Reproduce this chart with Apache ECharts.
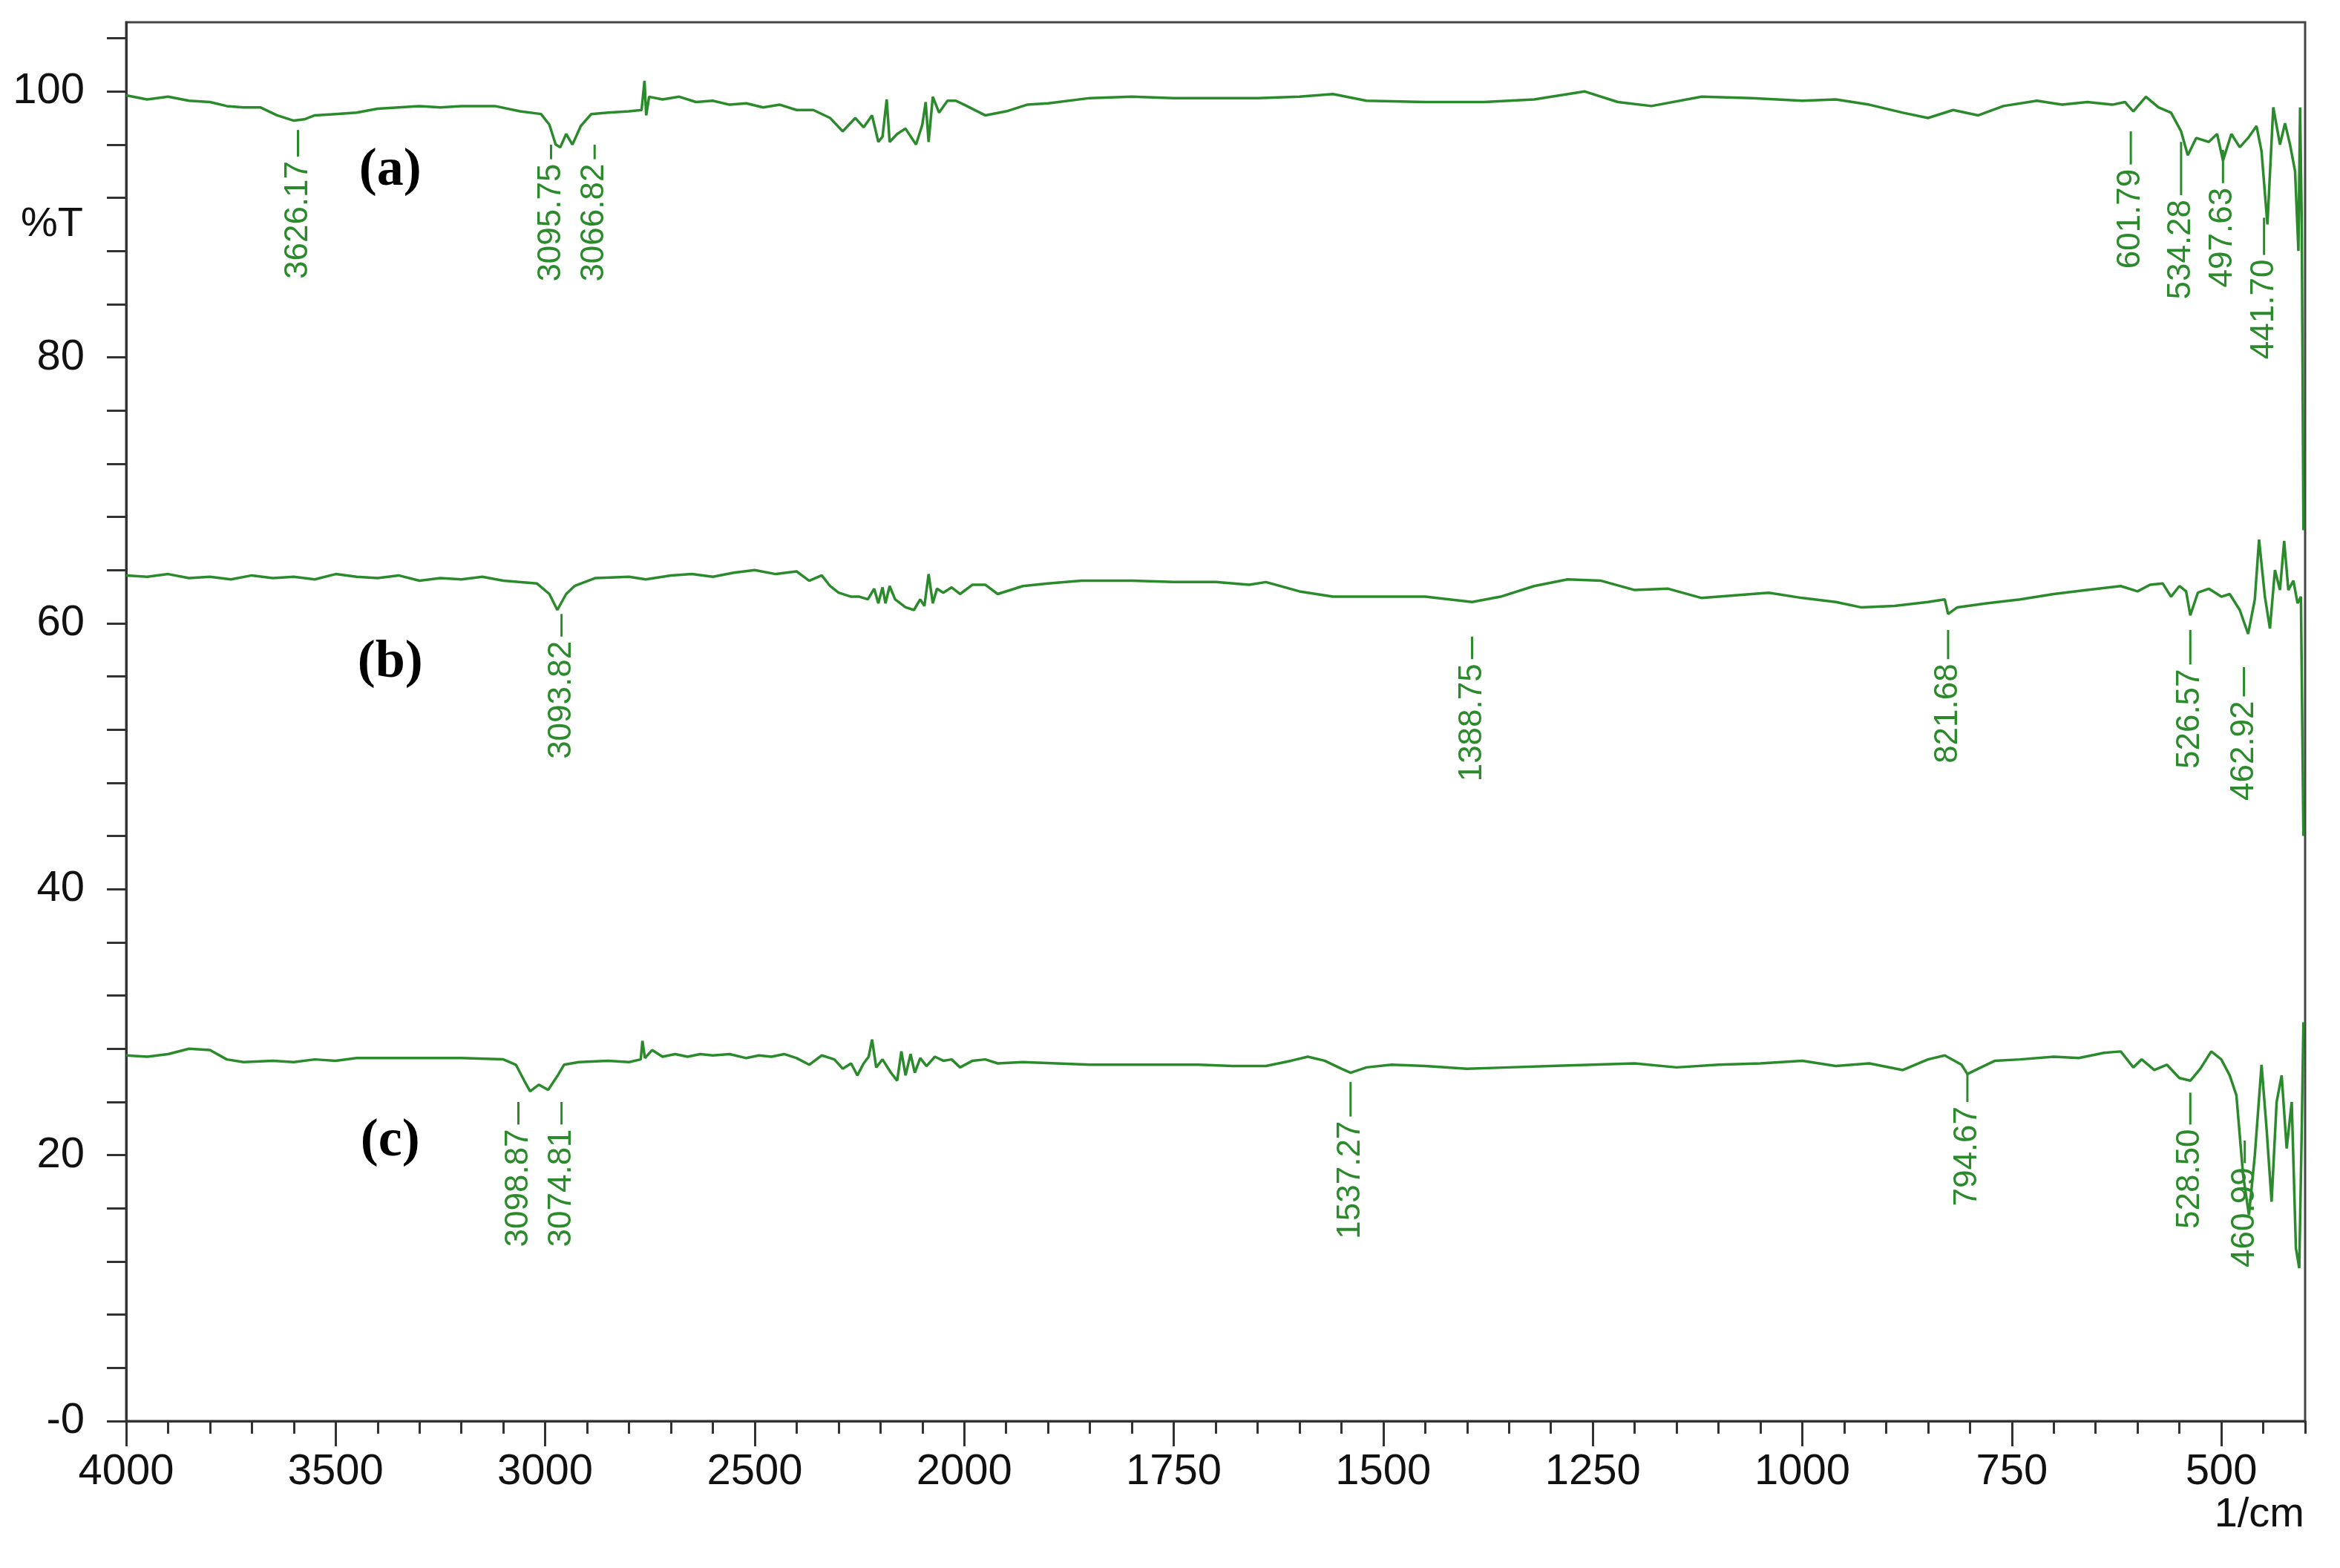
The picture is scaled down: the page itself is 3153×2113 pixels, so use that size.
<!DOCTYPE html>
<html><head><meta charset="utf-8">
<script src="https://cdn.jsdelivr.net/npm/echarts@6/dist/echarts.min.js"></script>
<style>html,body{margin:0;padding:0;background:#fff}#c{width:3153px;height:2113px}</style>
</head><body><div id="c"></div>
<script>
// Wavenumber positions (1/cm, as placed on the drawn axis) and %T values
const specA = [[4000,99.7],[3950,99.4],[3900,99.6],[3850,99.3],[3800,99.2],[3760,98.9],[3720,98.8],[3680,98.8],[3640,98.2],[3600,97.8],[3575,97.9],[3550,98.2],[3500,98.3],[3450,98.4],[3400,98.7],[3350,98.8],[3300,98.9],[3250,98.8],[3200,98.9],[3120,98.9],[3060,98.5],[3010,98.3],[2990,97.5],[2975,96.0],[2964,95.8],[2950,96.8],[2935,96.0],[2915,97.4],[2890,98.3],[2850,98.4],[2800,98.5],[2770,98.6],[2763,100.8],[2759,98.2],[2752,99.6],[2720,99.4],[2680,99.6],[2640,99.2],[2600,99.3],[2560,99.0],[2520,99.1],[2480,98.8],[2440,99.0],[2400,98.6],[2360,98.6],[2320,98.0],[2290,97.0],[2260,98.0],[2240,97.3],[2220,98.2],[2205,96.2],[2195,96.6],[2185,99.4],[2178,96.2],[2160,96.8],[2140,97.2],[2115,96.0],[2100,97.5],[2092,99.2],[2085,96.2],[2075,99.6],[2060,98.4],[2040,99.3],[2020,99.3],[2000,99.0],[1975,98.2],[1950,98.5],[1925,99.0],[1900,99.1],[1850,99.5],[1800,99.6],[1750,99.5],[1700,99.5],[1650,99.5],[1600,99.6],[1560,99.8],[1520,99.3],[1450,99.2],[1380,99.2],[1320,99.4],[1260,100.0],[1220,99.2],[1180,98.9],[1120,99.6],[1060,99.5],[1000,99.3],[960,99.4],[920,99.0],[880,98.4],[850,98.0],[820,98.6],[790,98.2],[760,98.9],[720,99.3],[690,99.0],[660,99.2],[630,99.0],[615,99.2],[605,98.5],[590,99.6],[575,98.8],[560,98.4],[548,97.0],[540,95.2],[530,96.5],[515,96.2],[505,96.8],[498,94.8],[488,96.8],[478,95.8],[468,96.5],[458,97.4],[452,95.5],[445,90.0],[438,98.8],[430,96.0],[424,97.6],[418,96.0],[412,94.0],[408,88.0],[406,98.8],[404,90.0],[402,67.0]];
const specB = [[4000,63.6],[3950,63.5],[3900,63.7],[3850,63.4],[3800,63.5],[3750,63.3],[3700,63.6],[3650,63.4],[3600,63.5],[3550,63.3],[3500,63.7],[3450,63.5],[3400,63.4],[3350,63.6],[3300,63.2],[3250,63.4],[3200,63.3],[3150,63.5],[3100,63.2],[3020,63.0],[2990,62.2],[2971,61.0],[2950,62.2],[2930,62.8],[2880,63.4],[2800,63.5],[2760,63.3],[2700,63.6],[2650,63.7],[2600,63.5],[2550,63.8],[2500,64.0],[2450,63.7],[2400,63.9],[2370,63.2],[2340,63.6],[2320,62.8],[2300,62.3],[2270,62.0],[2250,62.0],[2230,61.8],[2215,62.6],[2205,61.5],[2195,62.7],[2188,61.5],[2178,62.8],[2165,61.8],[2140,61.2],[2120,61.0],[2105,61.8],[2095,61.3],[2085,63.7],[2075,61.5],[2065,62.6],[2050,62.3],[2030,62.7],[2010,62.2],[1990,62.9],[1975,62.9],[1960,62.2],[1930,62.8],[1900,63.0],[1860,63.2],[1800,63.2],[1750,63.1],[1700,63.1],[1660,62.9],[1640,63.1],[1600,62.4],[1560,62.0],[1500,62.0],[1450,62.0],[1394,61.6],[1360,62.0],[1320,62.8],[1280,63.3],[1240,63.2],[1200,62.5],[1160,62.6],[1120,61.9],[1080,62.1],[1040,62.3],[1000,61.9],[960,61.6],[930,61.2],[890,61.3],[850,61.6],[830,61.8],[826,60.7],[815,61.2],[780,61.5],[740,61.8],[700,62.2],[660,62.5],[620,62.8],[600,62.4],[585,62.9],[570,63.0],[560,62.0],[550,62.8],[542,62.4],[537,60.6],[528,62.3],[515,62.6],[500,62.0],[490,62.2],[478,61.0],[468,59.2],[460,61.8],[455,66.3],[448,62.0],[442,59.6],[436,64.0],[430,62.5],[425,66.2],[420,62.5],[414,63.2],[409,61.5],[405,62.0],[402,44.0]];
const specC = [[4000,27.5],[3950,27.4],[3900,27.6],[3850,28.0],[3800,27.9],[3760,27.2],[3720,27.0],[3650,27.1],[3600,27.0],[3550,27.2],[3500,27.1],[3450,27.3],[3400,27.3],[3300,27.3],[3200,27.3],[3100,27.2],[3070,26.8],[3050,25.6],[3036,24.8],[3015,25.3],[2993,24.9],[2970,26.0],[2955,26.8],[2920,27.0],[2850,27.1],[2800,27.0],[2772,27.2],[2768,28.6],[2762,27.3],[2745,27.9],[2720,27.4],[2690,27.6],[2660,27.4],[2630,27.6],[2600,27.5],[2560,27.6],[2520,27.3],[2490,27.5],[2460,27.4],[2430,27.6],[2400,27.3],[2370,26.8],[2340,27.5],[2310,27.2],[2290,26.5],[2270,26.9],[2255,26.0],[2240,26.9],[2228,27.4],[2220,28.7],[2210,26.6],[2195,27.2],[2175,26.2],[2160,25.6],[2150,27.8],[2140,26.0],[2128,27.6],[2118,26.2],[2105,27.3],[2090,26.7],[2070,27.4],[2050,27.1],[2030,27.2],[2010,26.6],[1990,27.1],[1975,27.2],[1960,26.9],[1930,27.0],[1890,26.9],[1850,26.8],[1780,26.8],[1720,26.8],[1680,26.7],[1640,26.7],[1610,27.1],[1590,27.4],[1570,27.1],[1550,26.5],[1539,26.2],[1520,26.6],[1490,26.8],[1450,26.7],[1400,26.5],[1350,26.6],[1300,26.7],[1250,26.8],[1200,26.9],[1150,26.6],[1100,26.8],[1050,26.9],[1000,27.1],[960,26.7],[920,26.9],[880,26.4],[850,27.2],[830,27.5],[810,26.8],[803,26.1],[790,26.5],[770,27.1],[740,27.2],[700,27.4],[670,27.3],[640,27.7],[620,27.8],[605,26.6],[595,27.2],[580,26.4],[565,26.8],[550,25.8],[537,25.6],[525,26.5],[512,27.8],[500,27.2],[490,26.0],[482,24.5],[474,18.5],[467,15.5],[460,20.0],[452,26.8],[446,22.0],[440,16.5],[434,24.0],[428,26.0],[422,20.5],[416,24.0],[411,13.0],[407,11.5],[404,22.0],[402,30.0]];
// peak annotations: [axis position, label text, line top %T, line bottom %T]
const peaksA = [[3590,'3626.17',97.1,95.1],[2986,'3095.75',96.0,94.9],[2882,'3066.82',96.0,94.9],[608,'601.79',97.0,94.5],[548,'534.28',96.2,92.2],[498,'497.63',95.6,93.1],[449,'441.70',90.5,87.7]];
const peaksB = [[2961,'3093.82',60.7,59.0],[1394,'1388.75',59.0,57.3],[826,'821.68',59.5,57.3],[537,'526.57',59.5,56.9],[473,'462.92',56.7,54.5]];
const peaksC = [[3064,'3098.87',24.0,22.3],[2961,'3074.81',24.0,22.3],[1539,'1537.27',25.5,22.9],[803,'794.67',26.2,24.0],[537,'528.50',24.7,22.3],[472,'460.99',21.1,19.4]];
const sampleLabels = [['(a)',3370,94],['(b)',3370,57],['(c)',3370,21]];
const xMajor = [4000,3500,3000,2500,2000,1750,1500,1250,1000,750,500];
const yLabels = [0,20,40,60,80,100];

const GREEN = '#2b8a2b';
// piecewise axis: above 2000 1/cm compressed by half
const u = x => x <= 2000 ? x : 2000 + (x - 2000) / 2;
const uinv = v => v <= 2000 ? v : 2000 + (v - 2000) * 2;
const minorU = []; for (let v = 400; v <= 3000; v += 50) minorU.push(v);
const yMinor = []; for (let v = 0; v <= 104; v += 4) yMinor.push(v);

const chart = echarts.init(document.getElementById('c'));
const axisLine = {show:true, lineStyle:{color:'#333', width:3}};
const ser = (d) => ({type:'line', xAxisIndex:0, yAxisIndex:0, showSymbol:false, symbol:'none', animation:false,
  lineStyle:{color:GREEN, width:3.5}, data:d.map(p => [u(p[0]), p[1]])});
chart.setOption({
  animation:false,
  backgroundColor:'#fff',
  grid:{left:170, right:47, top:30, bottom:198, show:true, borderColor:'#444', borderWidth:3},
  xAxis:[
    {type:'value', min:400, max:3000, inverse:true, axisLine,
     axisTick:{show:true, length:34, lineStyle:{color:'#333', width:3}, customValues:xMajor.map(u)},
     axisLabel:{customValues:xMajor.map(u), formatter:v => String(Math.round(uinv(v))), fontFamily:'Liberation Sans', fontSize:58, color:'#111', margin:40},
     splitLine:{show:false}},
    {type:'value', min:400, max:3000, inverse:true, position:'bottom', axisLine,
     axisTick:{show:true, length:17, lineStyle:{color:'#333', width:3}, customValues:minorU},
     axisLabel:{show:false}, splitLine:{show:false}}
  ],
  yAxis:[
    {type:'value', min:0, max:105.2, axisLine,
     axisTick:{show:true, length:26, lineStyle:{color:'#333', width:3}, customValues:yMinor},
     axisLabel:{customValues:yLabels, formatter:v => v === 0 ? '-0' : String(v), fontFamily:'Liberation Sans', fontSize:58, color:'#111', margin:56},
     splitLine:{show:false}}
  ],
  series:[ser(specA), ser(specB), ser(specC)]
});

const pix = (x, y) => chart.convertToPixel({xAxisIndex:0, yAxisIndex:0}, [u(x), y]);
const g = [];
[peaksA, peaksB, peaksC].forEach(list => list.forEach(p => {
  const a = pix(p[0], p[2]), b = pix(p[0], p[3]);
  g.push({type:'line', shape:{x1:a[0], y1:a[1], x2:b[0], y2:b[1]}, style:{stroke:GREEN, lineWidth:3}});
  g.push({type:'text', x:b[0], y:b[1] + 6, rotation:Math.PI/2,
    style:{text:p[1], fill:GREEN, font:'44px "Liberation Sans"', align:'right', verticalAlign:'middle'}});
}));
sampleLabels.forEach(s => {
  const a = pix(s[1], s[2]);
  g.push({type:'text', x:a[0], y:a[1], style:{text:s[0], fill:'#000', font:'bold 72px "Liberation Serif"', align:'center', verticalAlign:'middle'}});
});
g.push({type:'text', x:28, y:303, style:{text:'%T', fill:'#111', font:'56px "Liberation Sans"', align:'left', verticalAlign:'middle'}});
g.push({type:'text', x:3105, y:2042, style:{text:'1/cm', fill:'#111', font:'56px "Liberation Sans"', align:'right', verticalAlign:'middle'}});
chart.setOption({graphic:g});
</script></body></html>
